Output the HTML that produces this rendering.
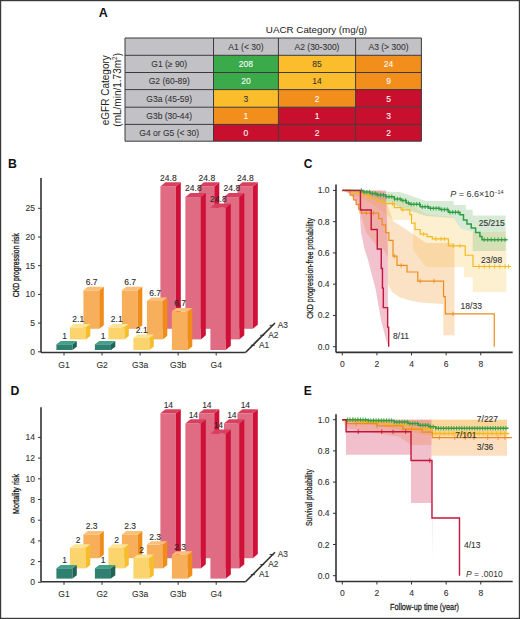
<!DOCTYPE html>
<html><head><meta charset="utf-8"><style>
html,body{margin:0;padding:0;background:#fff;width:520px;height:619px;overflow:hidden;font-family:"Liberation Sans", sans-serif;}
</style></head><body>
<svg width="520" height="619" viewBox="0 0 520 619" style="display:block" font-family='"Liberation Sans", sans-serif'>
<rect x="0" y="0" width="520" height="619" fill="#fff"/>
<text x="98.80" y="17.30" font-size="12.5" text-anchor="start" fill="#111" font-weight="bold" >A</text>
<text x="316.50" y="33.00" font-size="9.8" text-anchor="middle" fill="#222" font-weight="normal" >UACR Category (mg/g)</text>
<rect x="125" y="38" width="88.5" height="17.299999999999997" fill="#c2c1c6"/>
<rect x="213.5" y="38" width="64.89999999999998" height="17.299999999999997" fill="#c2c1c6"/>
<text x="245.95" y="49.75" font-size="8.5" text-anchor="middle" fill="#333" font-weight="normal" stroke="#333" stroke-width="0.08" >A1 (&lt; 30)</text>
<rect x="278.4" y="38" width="77.20000000000005" height="17.299999999999997" fill="#c2c1c6"/>
<text x="317.00" y="49.75" font-size="8.5" text-anchor="middle" fill="#333" font-weight="normal" stroke="#333" stroke-width="0.08" >A2 (30-300)</text>
<rect x="355.6" y="38" width="65.79999999999995" height="17.299999999999997" fill="#c2c1c6"/>
<text x="388.50" y="49.75" font-size="8.5" text-anchor="middle" fill="#333" font-weight="normal" stroke="#333" stroke-width="0.08" >A3 (&gt; 300)</text>
<rect x="125" y="55.3" width="88.5" height="17.200000000000003" fill="#c2c1c6"/>
<text x="169.25" y="67.00" font-size="8.5" text-anchor="middle" fill="#333" font-weight="normal" stroke="#333" stroke-width="0.08" >G1 (&#8805; 90)</text>
<rect x="213.5" y="55.3" width="64.89999999999998" height="17.200000000000003" fill="#3aaa4a"/>
<text x="245.95" y="67.00" font-size="8.5" text-anchor="middle" fill="#fff" font-weight="normal" stroke="#fff" stroke-width="0.08" >208</text>
<rect x="278.4" y="55.3" width="77.20000000000005" height="17.200000000000003" fill="#fbbd2c"/>
<text x="317.00" y="67.00" font-size="8.5" text-anchor="middle" fill="#333" font-weight="normal" stroke="#333" stroke-width="0.08" >85</text>
<rect x="355.6" y="55.3" width="65.79999999999995" height="17.200000000000003" fill="#f28e1c"/>
<text x="388.50" y="67.00" font-size="8.5" text-anchor="middle" fill="#fff" font-weight="normal" stroke="#fff" stroke-width="0.08" >24</text>
<rect x="125" y="72.5" width="88.5" height="17.099999999999994" fill="#c2c1c6"/>
<text x="169.25" y="84.15" font-size="8.5" text-anchor="middle" fill="#333" font-weight="normal" stroke="#333" stroke-width="0.08" >G2 (60-89)</text>
<rect x="213.5" y="72.5" width="64.89999999999998" height="17.099999999999994" fill="#3aaa4a"/>
<text x="245.95" y="84.15" font-size="8.5" text-anchor="middle" fill="#fff" font-weight="normal" stroke="#fff" stroke-width="0.08" >20</text>
<rect x="278.4" y="72.5" width="77.20000000000005" height="17.099999999999994" fill="#fbbd2c"/>
<text x="317.00" y="84.15" font-size="8.5" text-anchor="middle" fill="#333" font-weight="normal" stroke="#333" stroke-width="0.08" >14</text>
<rect x="355.6" y="72.5" width="65.79999999999995" height="17.099999999999994" fill="#f28e1c"/>
<text x="388.50" y="84.15" font-size="8.5" text-anchor="middle" fill="#fff" font-weight="normal" stroke="#fff" stroke-width="0.08" >9</text>
<rect x="125" y="89.6" width="88.5" height="17.60000000000001" fill="#c2c1c6"/>
<text x="169.25" y="101.50" font-size="8.5" text-anchor="middle" fill="#333" font-weight="normal" stroke="#333" stroke-width="0.08" >G3a (45-59)</text>
<rect x="213.5" y="89.6" width="64.89999999999998" height="17.60000000000001" fill="#fbbd2c"/>
<text x="245.95" y="101.50" font-size="8.5" text-anchor="middle" fill="#333" font-weight="normal" stroke="#333" stroke-width="0.08" >3</text>
<rect x="278.4" y="89.6" width="77.20000000000005" height="17.60000000000001" fill="#f28e1c"/>
<text x="317.00" y="101.50" font-size="8.5" text-anchor="middle" fill="#fff" font-weight="normal" stroke="#fff" stroke-width="0.08" >2</text>
<rect x="355.6" y="89.6" width="65.79999999999995" height="17.60000000000001" fill="#c8102e"/>
<text x="388.50" y="101.50" font-size="8.5" text-anchor="middle" fill="#fff" font-weight="normal" stroke="#fff" stroke-width="0.08" >5</text>
<rect x="125" y="107.2" width="88.5" height="17.200000000000003" fill="#c2c1c6"/>
<text x="169.25" y="118.90" font-size="8.5" text-anchor="middle" fill="#333" font-weight="normal" stroke="#333" stroke-width="0.08" >G3b (30-44)</text>
<rect x="213.5" y="107.2" width="64.89999999999998" height="17.200000000000003" fill="#f28e1c"/>
<text x="245.95" y="118.90" font-size="8.5" text-anchor="middle" fill="#fff" font-weight="normal" stroke="#fff" stroke-width="0.08" >1</text>
<rect x="278.4" y="107.2" width="77.20000000000005" height="17.200000000000003" fill="#c8102e"/>
<text x="317.00" y="118.90" font-size="8.5" text-anchor="middle" fill="#fff" font-weight="normal" stroke="#fff" stroke-width="0.08" >1</text>
<rect x="355.6" y="107.2" width="65.79999999999995" height="17.200000000000003" fill="#c8102e"/>
<text x="388.50" y="118.90" font-size="8.5" text-anchor="middle" fill="#fff" font-weight="normal" stroke="#fff" stroke-width="0.08" >3</text>
<rect x="125" y="124.4" width="88.5" height="16.799999999999983" fill="#c2c1c6"/>
<text x="169.25" y="135.90" font-size="8.5" text-anchor="middle" fill="#333" font-weight="normal" stroke="#333" stroke-width="0.08" >G4 or G5 (&lt; 30)</text>
<rect x="213.5" y="124.4" width="64.89999999999998" height="16.799999999999983" fill="#c8102e"/>
<text x="245.95" y="135.90" font-size="8.5" text-anchor="middle" fill="#fff" font-weight="normal" stroke="#fff" stroke-width="0.08" >0</text>
<rect x="278.4" y="124.4" width="77.20000000000005" height="16.799999999999983" fill="#c8102e"/>
<text x="317.00" y="135.90" font-size="8.5" text-anchor="middle" fill="#fff" font-weight="normal" stroke="#fff" stroke-width="0.08" >2</text>
<rect x="355.6" y="124.4" width="65.79999999999995" height="16.799999999999983" fill="#c8102e"/>
<text x="388.50" y="135.90" font-size="8.5" text-anchor="middle" fill="#fff" font-weight="normal" stroke="#fff" stroke-width="0.08" >2</text>
<line x1="125" y1="38" x2="421.4" y2="38" stroke="#3a3a3a" stroke-width="1"/>
<line x1="125" y1="55.3" x2="421.4" y2="55.3" stroke="#3a3a3a" stroke-width="1"/>
<line x1="125" y1="72.5" x2="421.4" y2="72.5" stroke="#3a3a3a" stroke-width="1"/>
<line x1="125" y1="89.6" x2="421.4" y2="89.6" stroke="#3a3a3a" stroke-width="1"/>
<line x1="125" y1="107.2" x2="421.4" y2="107.2" stroke="#3a3a3a" stroke-width="1"/>
<line x1="125" y1="124.4" x2="421.4" y2="124.4" stroke="#3a3a3a" stroke-width="1"/>
<line x1="125" y1="141.2" x2="421.4" y2="141.2" stroke="#3a3a3a" stroke-width="1"/>
<line x1="125" y1="38" x2="125" y2="141.2" stroke="#3a3a3a" stroke-width="1"/>
<line x1="213.5" y1="38" x2="213.5" y2="141.2" stroke="#3a3a3a" stroke-width="1"/>
<line x1="278.4" y1="38" x2="278.4" y2="141.2" stroke="#3a3a3a" stroke-width="1"/>
<line x1="355.6" y1="38" x2="355.6" y2="141.2" stroke="#3a3a3a" stroke-width="1"/>
<line x1="421.4" y1="38" x2="421.4" y2="141.2" stroke="#3a3a3a" stroke-width="1"/>
<text transform="translate(109.20,90.20) rotate(-90) scale(1.0,1)" x="0" y="0" font-size="10" text-anchor="middle" fill="#222" stroke="#222" stroke-width="0">eGFR Category</text>
<text transform="translate(120.7,89.8) rotate(-90)" font-size="10" text-anchor="middle" fill="#222">(mL/min/1.73m<tspan font-size="6.5" dy="-3.5">2</tspan><tspan dy="3.5">)</tspan></text>
<text x="8.00" y="167.50" font-size="12.3" text-anchor="start" fill="#111" font-weight="bold" >B</text>
<line x1="41" y1="178" x2="41" y2="352.5" stroke="#333" stroke-width="1.6"/>
<line x1="38" y1="351.80" x2="41" y2="351.80" stroke="#333" stroke-width="1"/>
<text x="35.00" y="354.80" font-size="8.5" text-anchor="end" fill="#333" font-weight="normal" stroke="#333" stroke-width="0.1" >0</text>
<line x1="38" y1="323.10" x2="41" y2="323.10" stroke="#333" stroke-width="1"/>
<text x="35.00" y="326.10" font-size="8.5" text-anchor="end" fill="#333" font-weight="normal" stroke="#333" stroke-width="0.1" >5</text>
<line x1="38" y1="294.40" x2="41" y2="294.40" stroke="#333" stroke-width="1"/>
<text x="35.00" y="297.40" font-size="8.5" text-anchor="end" fill="#333" font-weight="normal" stroke="#333" stroke-width="0.1" >10</text>
<line x1="38" y1="265.70" x2="41" y2="265.70" stroke="#333" stroke-width="1"/>
<text x="35.00" y="268.70" font-size="8.5" text-anchor="end" fill="#333" font-weight="normal" stroke="#333" stroke-width="0.1" >15</text>
<line x1="38" y1="237.00" x2="41" y2="237.00" stroke="#333" stroke-width="1"/>
<text x="35.00" y="240.00" font-size="8.5" text-anchor="end" fill="#333" font-weight="normal" stroke="#333" stroke-width="0.1" >20</text>
<line x1="38" y1="208.30" x2="41" y2="208.30" stroke="#333" stroke-width="1"/>
<text x="35.00" y="211.30" font-size="8.5" text-anchor="end" fill="#333" font-weight="normal" stroke="#333" stroke-width="0.1" >25</text>
<text transform="translate(19.20,265.20) rotate(-90) scale(0.78,1)" x="0" y="0" font-size="8.7" text-anchor="middle" fill="#1a1a1a" stroke="#1a1a1a" stroke-width="0.3">CKD progression risk</text>
<line x1="41" y1="352.5" x2="245.5" y2="352.5" stroke="#333" stroke-width="1.6"/>
<line x1="245.5" y1="352.5" x2="275" y2="323.0" stroke="#333" stroke-width="1.6"/>
<line x1="64.00" y1="352.5" x2="64.00" y2="355.5" stroke="#333" stroke-width="1"/>
<text x="64.00" y="367.70" font-size="8.5" text-anchor="middle" fill="#333" font-weight="normal" stroke="#333" stroke-width="0.1" >G1</text>
<line x1="102.05" y1="352.5" x2="102.05" y2="355.5" stroke="#333" stroke-width="1"/>
<text x="102.05" y="367.70" font-size="8.5" text-anchor="middle" fill="#333" font-weight="normal" stroke="#333" stroke-width="0.1" >G2</text>
<line x1="140.10" y1="352.5" x2="140.10" y2="355.5" stroke="#333" stroke-width="1"/>
<text x="140.10" y="367.70" font-size="8.5" text-anchor="middle" fill="#333" font-weight="normal" stroke="#333" stroke-width="0.1" >G3a</text>
<line x1="178.15" y1="352.5" x2="178.15" y2="355.5" stroke="#333" stroke-width="1"/>
<text x="178.15" y="367.70" font-size="8.5" text-anchor="middle" fill="#333" font-weight="normal" stroke="#333" stroke-width="0.1" >G3b</text>
<line x1="216.20" y1="352.5" x2="216.20" y2="355.5" stroke="#333" stroke-width="1"/>
<text x="216.20" y="367.70" font-size="8.5" text-anchor="middle" fill="#333" font-weight="normal" stroke="#333" stroke-width="0.1" >G4</text>
<line x1="250.80" y1="345.30" x2="254.80" y2="345.30" stroke="#333" stroke-width="1"/>
<text x="258.90" y="347.90" font-size="8.3" text-anchor="start" fill="#333" font-weight="normal" stroke="#333" stroke-width="0.1" >A1</text>
<line x1="260.20" y1="335.30" x2="264.20" y2="335.30" stroke="#333" stroke-width="1"/>
<text x="268.30" y="337.90" font-size="8.3" text-anchor="start" fill="#333" font-weight="normal" stroke="#333" stroke-width="0.1" >A2</text>
<line x1="269.60" y1="325.30" x2="273.60" y2="325.30" stroke="#333" stroke-width="1"/>
<text x="277.70" y="327.90" font-size="8.3" text-anchor="start" fill="#333" font-weight="normal" stroke="#333" stroke-width="0.1" >A3</text>
<rect x="83.40" y="290.34" width="15.907709999999998" height="38.46" fill="#f8af5c"/>
<polygon points="99.31,290.34 103.80,286.81 103.80,325.27 99.31,328.80" fill="#f08c18"/>
<polygon points="83.40,290.34 87.89,286.81 103.80,286.81 99.31,290.34" fill="#fbbf78"/>
<rect x="121.90" y="290.34" width="15.907709999999998" height="38.46" fill="#f8af5c"/>
<polygon points="137.81,290.34 142.30,286.81 142.30,325.27 137.81,328.80" fill="#f08c18"/>
<polygon points="121.90,290.34 126.39,286.81 142.30,286.81 137.81,290.34" fill="#fbbf78"/>
<rect x="160.40" y="186.45" width="15.38824" height="142.35" fill="#e06c84"/>
<polygon points="175.79,186.45 180.80,182.29 180.80,324.65 175.79,328.80" fill="#cf1038"/>
<polygon points="160.40,186.45 165.41,182.29 180.80,182.29 175.79,186.45" fill="#d9405f"/>
<rect x="198.90" y="186.45" width="15.38824" height="142.35" fill="#e06c84"/>
<polygon points="214.29,186.45 219.30,182.29 219.30,324.65 214.29,328.80" fill="#cf1038"/>
<polygon points="198.90,186.45 203.91,182.29 219.30,182.29 214.29,186.45" fill="#d9405f"/>
<rect x="237.40" y="186.45" width="15.38824" height="142.35" fill="#e06c84"/>
<polygon points="252.79,186.45 257.80,182.29 257.80,324.65 252.79,328.80" fill="#cf1038"/>
<polygon points="237.40,186.45 242.41,182.29 257.80,182.29 252.79,186.45" fill="#d9405f"/>
<rect x="69.90" y="327.35" width="16.03973" height="12.05" fill="#fcd46e"/>
<polygon points="85.94,327.35 90.30,323.97 90.30,336.03 85.94,339.40" fill="#f6bd2c"/>
<polygon points="69.90,327.35 74.26,323.97 90.30,323.97 85.94,327.35" fill="#fde394"/>
<rect x="108.40" y="327.35" width="16.03973" height="12.05" fill="#fcd46e"/>
<polygon points="124.44,327.35 128.80,323.97 128.80,336.03 124.44,339.40" fill="#f6bd2c"/>
<polygon points="108.40,327.35 112.76,323.97 128.80,323.97 124.44,327.35" fill="#fde394"/>
<rect x="146.90" y="300.94" width="15.907709999999998" height="38.46" fill="#f8af5c"/>
<polygon points="162.81,300.94 167.30,297.41 167.30,335.87 162.81,339.40" fill="#f08c18"/>
<polygon points="146.90,300.94 151.39,297.41 167.30,297.41 162.81,300.94" fill="#fbbf78"/>
<rect x="185.40" y="197.05" width="15.38824" height="142.35" fill="#e06c84"/>
<polygon points="200.79,197.05 205.80,192.89 205.80,335.25 200.79,339.40" fill="#cf1038"/>
<polygon points="185.40,197.05 190.41,192.89 205.80,192.89 200.79,197.05" fill="#d9405f"/>
<rect x="223.90" y="197.05" width="15.38824" height="142.35" fill="#e06c84"/>
<polygon points="239.29,197.05 244.30,192.89 244.30,335.25 239.29,339.40" fill="#cf1038"/>
<polygon points="223.90,197.05 228.91,192.89 244.30,192.89 239.29,197.05" fill="#d9405f"/>
<rect x="56.40" y="344.26" width="16.0713" height="5.74" fill="#2f8070"/>
<polygon points="72.47,344.26 76.80,340.93 76.80,346.67 72.47,350.00" fill="#1e6355"/>
<polygon points="56.40,344.26 60.73,340.93 76.80,340.93 72.47,344.26" fill="#45a08a"/>
<rect x="94.90" y="344.26" width="16.0713" height="5.74" fill="#2f8070"/>
<polygon points="110.97,344.26 115.30,340.93 115.30,346.67 110.97,350.00" fill="#1e6355"/>
<polygon points="94.90,344.26 99.23,340.93 115.30,340.93 110.97,344.26" fill="#45a08a"/>
<rect x="133.40" y="337.95" width="16.03973" height="12.05" fill="#fcd46e"/>
<polygon points="149.44,337.95 153.80,334.57 153.80,346.63 149.44,350.00" fill="#f6bd2c"/>
<polygon points="133.40,337.95 137.76,334.57 153.80,334.57 149.44,337.95" fill="#fde394"/>
<rect x="171.90" y="311.54" width="15.907709999999998" height="38.46" fill="#f8af5c"/>
<polygon points="187.81,311.54 192.30,308.01 192.30,346.47 187.81,350.00" fill="#f08c18"/>
<polygon points="171.90,311.54 176.39,308.01 192.30,308.01 187.81,311.54" fill="#fbbf78"/>
<rect x="210.40" y="207.65" width="15.38824" height="142.35" fill="#e06c84"/>
<polygon points="225.79,207.65 230.80,203.49 230.80,345.85 225.79,350.00" fill="#cf1038"/>
<polygon points="210.40,207.65 215.41,203.49 230.80,203.49 225.79,207.65" fill="#d9405f"/>
<text x="91.65" y="285.21" font-size="8.5" text-anchor="middle" fill="#2a2a2a" font-weight="normal" stroke="#2a2a2a" stroke-width="0.1" >6.7</text>
<text x="130.15" y="285.21" font-size="8.5" text-anchor="middle" fill="#2a2a2a" font-weight="normal" stroke="#2a2a2a" stroke-width="0.1" >6.7</text>
<text x="168.39" y="180.69" font-size="8.5" text-anchor="middle" fill="#2a2a2a" font-weight="normal" stroke="#2a2a2a" stroke-width="0.1" >24.8</text>
<text x="206.89" y="180.69" font-size="8.5" text-anchor="middle" fill="#2a2a2a" font-weight="normal" stroke="#2a2a2a" stroke-width="0.1" >24.8</text>
<text x="245.39" y="180.69" font-size="8.5" text-anchor="middle" fill="#2a2a2a" font-weight="normal" stroke="#2a2a2a" stroke-width="0.1" >24.8</text>
<text x="78.22" y="322.37" font-size="8.5" text-anchor="middle" fill="#2a2a2a" font-weight="normal" stroke="#2a2a2a" stroke-width="0.1" >2.1</text>
<text x="116.72" y="322.37" font-size="8.5" text-anchor="middle" fill="#2a2a2a" font-weight="normal" stroke="#2a2a2a" stroke-width="0.1" >2.1</text>
<text x="155.15" y="295.81" font-size="8.5" text-anchor="middle" fill="#2a2a2a" font-weight="normal" stroke="#2a2a2a" stroke-width="0.1" >6.7</text>
<text x="193.39" y="191.29" font-size="8.5" text-anchor="middle" fill="#2a2a2a" font-weight="normal" stroke="#2a2a2a" stroke-width="0.1" >24.8</text>
<text x="231.89" y="191.29" font-size="8.5" text-anchor="middle" fill="#2a2a2a" font-weight="normal" stroke="#2a2a2a" stroke-width="0.1" >24.8</text>
<text x="64.74" y="339.33" font-size="8.5" text-anchor="middle" fill="#2a2a2a" font-weight="normal" stroke="#2a2a2a" stroke-width="0.1" >1</text>
<text x="103.24" y="339.33" font-size="8.5" text-anchor="middle" fill="#2a2a2a" font-weight="normal" stroke="#2a2a2a" stroke-width="0.1" >1</text>
<text x="141.72" y="332.97" font-size="8.5" text-anchor="middle" fill="#2a2a2a" font-weight="normal" stroke="#2a2a2a" stroke-width="0.1" >2.1</text>
<text x="180.15" y="306.41" font-size="8.5" text-anchor="middle" fill="#2a2a2a" font-weight="normal" stroke="#2a2a2a" stroke-width="0.1" >6.7</text>
<text x="218.39" y="201.89" font-size="8.5" text-anchor="middle" fill="#2a2a2a" font-weight="normal" stroke="#2a2a2a" stroke-width="0.1" >24.8</text>
<text x="10.60" y="394.80" font-size="12.3" text-anchor="start" fill="#111" font-weight="bold" >D</text>
<line x1="41" y1="407.3" x2="41" y2="581.8" stroke="#333" stroke-width="1.6"/>
<line x1="38" y1="582.30" x2="41" y2="582.30" stroke="#333" stroke-width="1"/>
<text x="35.00" y="585.30" font-size="8.5" text-anchor="end" fill="#333" font-weight="normal" stroke="#333" stroke-width="0.1" >0</text>
<line x1="38" y1="561.60" x2="41" y2="561.60" stroke="#333" stroke-width="1"/>
<text x="35.00" y="564.60" font-size="8.5" text-anchor="end" fill="#333" font-weight="normal" stroke="#333" stroke-width="0.1" >2</text>
<line x1="38" y1="540.90" x2="41" y2="540.90" stroke="#333" stroke-width="1"/>
<text x="35.00" y="543.90" font-size="8.5" text-anchor="end" fill="#333" font-weight="normal" stroke="#333" stroke-width="0.1" >4</text>
<line x1="38" y1="520.20" x2="41" y2="520.20" stroke="#333" stroke-width="1"/>
<text x="35.00" y="523.20" font-size="8.5" text-anchor="end" fill="#333" font-weight="normal" stroke="#333" stroke-width="0.1" >6</text>
<line x1="38" y1="499.50" x2="41" y2="499.50" stroke="#333" stroke-width="1"/>
<text x="35.00" y="502.50" font-size="8.5" text-anchor="end" fill="#333" font-weight="normal" stroke="#333" stroke-width="0.1" >8</text>
<line x1="38" y1="478.80" x2="41" y2="478.80" stroke="#333" stroke-width="1"/>
<text x="35.00" y="481.80" font-size="8.5" text-anchor="end" fill="#333" font-weight="normal" stroke="#333" stroke-width="0.1" >10</text>
<line x1="38" y1="458.10" x2="41" y2="458.10" stroke="#333" stroke-width="1"/>
<text x="35.00" y="461.10" font-size="8.5" text-anchor="end" fill="#333" font-weight="normal" stroke="#333" stroke-width="0.1" >12</text>
<line x1="38" y1="437.40" x2="41" y2="437.40" stroke="#333" stroke-width="1"/>
<text x="35.00" y="440.40" font-size="8.5" text-anchor="end" fill="#333" font-weight="normal" stroke="#333" stroke-width="0.1" >14</text>
<text transform="translate(19.20,494.00) rotate(-90) scale(0.82,1)" x="0" y="0" font-size="8.7" text-anchor="middle" fill="#1a1a1a" stroke="#1a1a1a" stroke-width="0.3">Mortality risk</text>
<line x1="41" y1="581.8" x2="245.5" y2="581.8" stroke="#333" stroke-width="1.6"/>
<line x1="245.5" y1="581.8" x2="275" y2="552.3" stroke="#333" stroke-width="1.6"/>
<line x1="64.00" y1="581.8" x2="64.00" y2="584.8" stroke="#333" stroke-width="1"/>
<text x="64.00" y="597.00" font-size="8.5" text-anchor="middle" fill="#333" font-weight="normal" stroke="#333" stroke-width="0.1" >G1</text>
<line x1="102.05" y1="581.8" x2="102.05" y2="584.8" stroke="#333" stroke-width="1"/>
<text x="102.05" y="597.00" font-size="8.5" text-anchor="middle" fill="#333" font-weight="normal" stroke="#333" stroke-width="0.1" >G2</text>
<line x1="140.10" y1="581.8" x2="140.10" y2="584.8" stroke="#333" stroke-width="1"/>
<text x="140.10" y="597.00" font-size="8.5" text-anchor="middle" fill="#333" font-weight="normal" stroke="#333" stroke-width="0.1" >G3a</text>
<line x1="178.15" y1="581.8" x2="178.15" y2="584.8" stroke="#333" stroke-width="1"/>
<text x="178.15" y="597.00" font-size="8.5" text-anchor="middle" fill="#333" font-weight="normal" stroke="#333" stroke-width="0.1" >G3b</text>
<line x1="216.20" y1="581.8" x2="216.20" y2="584.8" stroke="#333" stroke-width="1"/>
<text x="216.20" y="597.00" font-size="8.5" text-anchor="middle" fill="#333" font-weight="normal" stroke="#333" stroke-width="0.1" >G4</text>
<line x1="250.80" y1="574.60" x2="254.80" y2="574.60" stroke="#333" stroke-width="1"/>
<text x="258.90" y="577.20" font-size="8.3" text-anchor="start" fill="#333" font-weight="normal" stroke="#333" stroke-width="0.1" >A1</text>
<line x1="260.20" y1="564.60" x2="264.20" y2="564.60" stroke="#333" stroke-width="1"/>
<text x="268.30" y="567.20" font-size="8.3" text-anchor="start" fill="#333" font-weight="normal" stroke="#333" stroke-width="0.1" >A2</text>
<line x1="269.60" y1="554.60" x2="273.60" y2="554.60" stroke="#333" stroke-width="1"/>
<text x="277.70" y="557.20" font-size="8.3" text-anchor="start" fill="#333" font-weight="normal" stroke="#333" stroke-width="0.1" >A3</text>
<rect x="83.40" y="534.40" width="15.980974999999999" height="23.80" fill="#f8af5c"/>
<polygon points="99.38,534.40 103.80,530.95 103.80,554.76 99.38,558.20" fill="#f08c18"/>
<polygon points="83.40,534.40 87.82,530.95 103.80,530.95 99.38,534.40" fill="#fbbf78"/>
<rect x="121.90" y="534.40" width="15.980974999999999" height="23.80" fill="#f8af5c"/>
<polygon points="137.88,534.40 142.30,530.95 142.30,554.76 137.88,558.20" fill="#f08c18"/>
<polygon points="121.90,534.40 126.32,530.95 142.30,530.95 137.88,534.40" fill="#fbbf78"/>
<rect x="160.40" y="413.30" width="15.375499999999999" height="144.90" fill="#e06c84"/>
<polygon points="175.78,413.30 180.80,409.13 180.80,554.03 175.78,558.20" fill="#cf1038"/>
<polygon points="160.40,413.30 165.42,409.13 180.80,409.13 175.78,413.30" fill="#d9405f"/>
<rect x="198.90" y="413.30" width="15.375499999999999" height="144.90" fill="#e06c84"/>
<polygon points="214.28,413.30 219.30,409.13 219.30,554.03 214.28,558.20" fill="#cf1038"/>
<polygon points="198.90,413.30 203.92,409.13 219.30,409.13 214.28,413.30" fill="#d9405f"/>
<rect x="237.40" y="413.30" width="15.375499999999999" height="144.90" fill="#e06c84"/>
<polygon points="252.78,413.30 257.80,409.13 257.80,554.03 252.78,558.20" fill="#cf1038"/>
<polygon points="237.40,413.30 242.42,409.13 257.80,409.13 252.78,413.30" fill="#d9405f"/>
<rect x="69.90" y="547.70" width="15.996499999999997" height="20.70" fill="#fcd46e"/>
<polygon points="85.90,547.70 90.30,544.28 90.30,564.98 85.90,568.40" fill="#f6bd2c"/>
<polygon points="69.90,547.70 74.30,544.28 90.30,544.28 85.90,547.70" fill="#fde394"/>
<rect x="108.40" y="547.70" width="15.996499999999997" height="20.70" fill="#fcd46e"/>
<polygon points="124.40,547.70 128.80,544.28 128.80,564.98 124.40,568.40" fill="#f6bd2c"/>
<polygon points="108.40,547.70 112.80,544.28 128.80,544.28 124.40,547.70" fill="#fde394"/>
<rect x="146.90" y="544.60" width="15.980974999999999" height="23.80" fill="#f8af5c"/>
<polygon points="162.88,544.60 167.30,541.15 167.30,564.96 162.88,568.40" fill="#f08c18"/>
<polygon points="146.90,544.60 151.32,541.15 167.30,541.15 162.88,544.60" fill="#fbbf78"/>
<rect x="185.40" y="423.50" width="15.375499999999999" height="144.90" fill="#e06c84"/>
<polygon points="200.78,423.50 205.80,419.33 205.80,564.23 200.78,568.40" fill="#cf1038"/>
<polygon points="185.40,423.50 190.42,419.33 205.80,419.33 200.78,423.50" fill="#d9405f"/>
<rect x="223.90" y="423.50" width="15.375499999999999" height="144.90" fill="#e06c84"/>
<polygon points="239.28,423.50 244.30,419.33 244.30,564.23 239.28,568.40" fill="#cf1038"/>
<polygon points="223.90,423.50 228.92,419.33 244.30,419.33 239.28,423.50" fill="#d9405f"/>
<rect x="56.40" y="568.25" width="16.04825" height="10.35" fill="#2f8070"/>
<polygon points="72.45,568.25 76.80,564.89 76.80,575.24 72.45,578.60" fill="#1e6355"/>
<polygon points="56.40,568.25 60.75,564.89 76.80,564.89 72.45,568.25" fill="#45a08a"/>
<rect x="94.90" y="568.25" width="16.04825" height="10.35" fill="#2f8070"/>
<polygon points="110.95,568.25 115.30,564.89 115.30,575.24 110.95,578.60" fill="#1e6355"/>
<polygon points="94.90,568.25 99.25,564.89 115.30,564.89 110.95,568.25" fill="#45a08a"/>
<rect x="133.40" y="557.90" width="15.996499999999997" height="20.70" fill="#fcd46e"/>
<polygon points="149.40,557.90 153.80,554.48 153.80,575.18 149.40,578.60" fill="#f6bd2c"/>
<polygon points="133.40,557.90 137.80,554.48 153.80,554.48 149.40,557.90" fill="#fde394"/>
<rect x="171.90" y="554.80" width="15.980974999999999" height="23.80" fill="#f8af5c"/>
<polygon points="187.88,554.80 192.30,551.35 192.30,575.16 187.88,578.60" fill="#f08c18"/>
<polygon points="171.90,554.80 176.32,551.35 192.30,551.35 187.88,554.80" fill="#fbbf78"/>
<rect x="210.40" y="433.70" width="15.375499999999999" height="144.90" fill="#e06c84"/>
<polygon points="225.78,433.70 230.80,429.53 230.80,574.43 225.78,578.60" fill="#cf1038"/>
<polygon points="210.40,433.70 215.42,429.53 230.80,429.53 225.78,433.70" fill="#d9405f"/>
<text x="91.69" y="529.35" font-size="8.5" text-anchor="middle" fill="#2a2a2a" font-weight="normal" stroke="#2a2a2a" stroke-width="0.1" >2.3</text>
<text x="130.19" y="529.35" font-size="8.5" text-anchor="middle" fill="#2a2a2a" font-weight="normal" stroke="#2a2a2a" stroke-width="0.1" >2.3</text>
<text x="168.39" y="407.53" font-size="8.5" text-anchor="middle" fill="#2a2a2a" font-weight="normal" stroke="#2a2a2a" stroke-width="0.1" >14</text>
<text x="206.89" y="407.53" font-size="8.5" text-anchor="middle" fill="#2a2a2a" font-weight="normal" stroke="#2a2a2a" stroke-width="0.1" >14</text>
<text x="245.39" y="407.53" font-size="8.5" text-anchor="middle" fill="#2a2a2a" font-weight="normal" stroke="#2a2a2a" stroke-width="0.1" >14</text>
<text x="78.20" y="542.68" font-size="8.5" text-anchor="middle" fill="#2a2a2a" font-weight="normal" stroke="#2a2a2a" stroke-width="0.1" >2</text>
<text x="116.70" y="542.68" font-size="8.5" text-anchor="middle" fill="#2a2a2a" font-weight="normal" stroke="#2a2a2a" stroke-width="0.1" >2</text>
<text x="155.19" y="539.55" font-size="8.5" text-anchor="middle" fill="#2a2a2a" font-weight="normal" stroke="#2a2a2a" stroke-width="0.1" >2.3</text>
<text x="193.39" y="417.73" font-size="8.5" text-anchor="middle" fill="#2a2a2a" font-weight="normal" stroke="#2a2a2a" stroke-width="0.1" >14</text>
<text x="231.89" y="417.73" font-size="8.5" text-anchor="middle" fill="#2a2a2a" font-weight="normal" stroke="#2a2a2a" stroke-width="0.1" >14</text>
<text x="64.72" y="563.29" font-size="8.5" text-anchor="middle" fill="#2a2a2a" font-weight="normal" stroke="#2a2a2a" stroke-width="0.1" >1</text>
<text x="103.22" y="563.29" font-size="8.5" text-anchor="middle" fill="#2a2a2a" font-weight="normal" stroke="#2a2a2a" stroke-width="0.1" >1</text>
<text x="141.70" y="552.88" font-size="8.5" text-anchor="middle" fill="#2a2a2a" font-weight="normal" stroke="#2a2a2a" stroke-width="0.1" >2</text>
<text x="180.19" y="549.75" font-size="8.5" text-anchor="middle" fill="#2a2a2a" font-weight="normal" stroke="#2a2a2a" stroke-width="0.1" >2.3</text>
<text x="218.39" y="427.93" font-size="8.5" text-anchor="middle" fill="#2a2a2a" font-weight="normal" stroke="#2a2a2a" stroke-width="0.1" >14</text>
<text x="303.80" y="168.00" font-size="12" text-anchor="start" fill="#111" font-weight="bold" >C</text>
<line x1="336" y1="184.6" x2="336" y2="352.4" stroke="#333" stroke-width="1.6"/>
<line x1="336" y1="352.4" x2="512.7" y2="352.4" stroke="#333" stroke-width="1.6"/>
<line x1="333" y1="346.70" x2="336" y2="346.70" stroke="#333" stroke-width="1"/>
<text x="329.60" y="349.70" font-size="8.5" text-anchor="end" fill="#333" font-weight="normal" stroke="#333" stroke-width="0.1" >0.0</text>
<line x1="333" y1="315.44" x2="336" y2="315.44" stroke="#333" stroke-width="1"/>
<text x="329.60" y="318.44" font-size="8.5" text-anchor="end" fill="#333" font-weight="normal" stroke="#333" stroke-width="0.1" >0.2</text>
<line x1="333" y1="284.18" x2="336" y2="284.18" stroke="#333" stroke-width="1"/>
<text x="329.60" y="287.18" font-size="8.5" text-anchor="end" fill="#333" font-weight="normal" stroke="#333" stroke-width="0.1" >0.4</text>
<line x1="333" y1="252.92" x2="336" y2="252.92" stroke="#333" stroke-width="1"/>
<text x="329.60" y="255.92" font-size="8.5" text-anchor="end" fill="#333" font-weight="normal" stroke="#333" stroke-width="0.1" >0.6</text>
<line x1="333" y1="221.66" x2="336" y2="221.66" stroke="#333" stroke-width="1"/>
<text x="329.60" y="224.66" font-size="8.5" text-anchor="end" fill="#333" font-weight="normal" stroke="#333" stroke-width="0.1" >0.8</text>
<line x1="333" y1="190.40" x2="336" y2="190.40" stroke="#333" stroke-width="1"/>
<text x="329.60" y="193.40" font-size="8.5" text-anchor="end" fill="#333" font-weight="normal" stroke="#333" stroke-width="0.1" >1.0</text>
<line x1="342.30" y1="352.4" x2="342.30" y2="355.4" stroke="#333" stroke-width="1"/>
<text x="342.30" y="367.20" font-size="8.5" text-anchor="middle" fill="#333" font-weight="normal" stroke="#333" stroke-width="0.1" >0</text>
<line x1="376.92" y1="352.4" x2="376.92" y2="355.4" stroke="#333" stroke-width="1"/>
<text x="376.92" y="367.20" font-size="8.5" text-anchor="middle" fill="#333" font-weight="normal" stroke="#333" stroke-width="0.1" >2</text>
<line x1="411.54" y1="352.4" x2="411.54" y2="355.4" stroke="#333" stroke-width="1"/>
<text x="411.54" y="367.20" font-size="8.5" text-anchor="middle" fill="#333" font-weight="normal" stroke="#333" stroke-width="0.1" >4</text>
<line x1="446.16" y1="352.4" x2="446.16" y2="355.4" stroke="#333" stroke-width="1"/>
<text x="446.16" y="367.20" font-size="8.5" text-anchor="middle" fill="#333" font-weight="normal" stroke="#333" stroke-width="0.1" >6</text>
<line x1="480.78" y1="352.4" x2="480.78" y2="355.4" stroke="#333" stroke-width="1"/>
<text x="480.78" y="367.20" font-size="8.5" text-anchor="middle" fill="#333" font-weight="normal" stroke="#333" stroke-width="0.1" >8</text>
<text transform="translate(312.50,268.40) rotate(-90) scale(0.733,1)" x="0" y="0" font-size="9.5" text-anchor="middle" fill="#1a1a1a" stroke="#1a1a1a" stroke-width="0.25">CKD progression-free probability</text>
<polygon points="342.3,190.4 370.0,191.0 400.0,197.0 426.0,214.0 454.0,217.0 460.6,228.4 472.7,232.0 506.4,232.0 506.4,292.0 472.7,292.0 472.7,277.3 464.0,277.3 464.0,267.0 426.0,267.0 413.0,250.0 413.0,220.0 393.0,220.0 386.0,214.0 372.0,204.0 355.0,195.0" fill="#f9cf70" fill-opacity="0.32"/>
<polygon points="342.3,190.4 382.0,190.4 386.0,200.0 393.0,221.0 413.0,234.0 426.0,243.0 454.5,243.0 454.5,335.3 443.3,335.3 443.3,304.1 426.0,303.0 420.0,302.5 410.0,300.6 400.0,297.5 392.0,292.0 388.0,284.2 388.0,258.0 384.0,250.0 376.0,245.0 366.0,232.0 361.0,215.0 358.0,200.0 348.0,192.0" fill="#f6a650" fill-opacity="0.33"/>
<polygon points="342.3,190.4 400.0,192.0 426.0,201.0 453.7,201.0 453.7,205.0 465.8,205.0 465.8,209.8 472.7,209.8 472.7,215.5 505.6,215.5 505.6,251.0 472.7,251.0 472.7,232.0 460.6,228.4 454.0,218.0 426.0,216.0 400.0,207.0 370.0,196.0 350.0,191.5" fill="#8fc48a" fill-opacity="0.36"/>
<polygon points="343.0,190.4 386.0,190.4 387.9,250.0 387.9,343.0 388.5,347.0 386.2,340.0 381.0,320.0 375.8,290.0 368.0,260.0 364.5,249.0 361.0,232.0 359.8,214.6 357.0,204.0 350.0,194.0" fill="#de5f7f" fill-opacity="0.38"/>
<path d="M342.30,190.40 H350.09 V195.09 H353.55 V199.78 H356.15 V204.47 H358.74 V209.16 H361.34 V213.06 H378.65 V218.53 H382.11 V224.79 H385.57 V232.60 H388.86 V240.42 H393.02 V256.05 H397.00 V265.42 H407.04 V271.99 H417.77 V281.05 H443.56 V296.68 H445.29 V313.88 H494.28 V346.70 H494.28" fill="none" stroke="#ec8c1e" stroke-width="1.2"/>
<line x1="366.53" y1="210.86" x2="366.53" y2="215.26" stroke="#ec8c1e" stroke-width="0.9"/>
<line x1="373.46" y1="210.86" x2="373.46" y2="215.26" stroke="#ec8c1e" stroke-width="0.9"/>
<line x1="394.23" y1="253.85" x2="394.23" y2="258.25" stroke="#ec8c1e" stroke-width="0.9"/>
<line x1="401.15" y1="263.22" x2="401.15" y2="267.62" stroke="#ec8c1e" stroke-width="0.9"/>
<line x1="420.19" y1="278.85" x2="420.19" y2="283.25" stroke="#ec8c1e" stroke-width="0.9"/>
<line x1="434.04" y1="278.85" x2="434.04" y2="283.25" stroke="#ec8c1e" stroke-width="0.9"/>
<line x1="453.08" y1="311.68" x2="453.08" y2="316.08" stroke="#ec8c1e" stroke-width="0.9"/>
<path d="M342.30,190.40 H352.69 V192.74 H363.07 V195.87 H370.00 V198.22 H376.92 V201.34 H383.84 V203.69 H394.23 V207.59 H401.15 V209.94 H409.81 V214.63 H411.54 V223.22 H415.00 V229.48 H420.19 V234.16 H427.12 V236.66 H432.31 V238.85 H448.41 V245.89 H465.20 V255.26 H472.99 V266.52 H511.07" fill="none" stroke="#f5b81c" stroke-width="1.2"/>
<line x1="357.88" y1="190.54" x2="357.88" y2="194.94" stroke="#f5b81c" stroke-width="0.9"/>
<line x1="368.26" y1="193.67" x2="368.26" y2="198.07" stroke="#f5b81c" stroke-width="0.9"/>
<line x1="382.11" y1="199.14" x2="382.11" y2="203.54" stroke="#f5b81c" stroke-width="0.9"/>
<line x1="392.50" y1="201.49" x2="392.50" y2="205.89" stroke="#f5b81c" stroke-width="0.9"/>
<line x1="402.88" y1="207.74" x2="402.88" y2="212.14" stroke="#f5b81c" stroke-width="0.9"/>
<line x1="423.66" y1="231.96" x2="423.66" y2="236.36" stroke="#f5b81c" stroke-width="0.9"/>
<line x1="435.77" y1="236.65" x2="435.77" y2="241.05" stroke="#f5b81c" stroke-width="0.9"/>
<line x1="440.97" y1="236.65" x2="440.97" y2="241.05" stroke="#f5b81c" stroke-width="0.9"/>
<line x1="444.43" y1="236.65" x2="444.43" y2="241.05" stroke="#f5b81c" stroke-width="0.9"/>
<line x1="453.08" y1="243.69" x2="453.08" y2="248.09" stroke="#f5b81c" stroke-width="0.9"/>
<line x1="460.01" y1="243.69" x2="460.01" y2="248.09" stroke="#f5b81c" stroke-width="0.9"/>
<line x1="479.05" y1="264.32" x2="479.05" y2="268.72" stroke="#f5b81c" stroke-width="0.9"/>
<line x1="484.24" y1="264.32" x2="484.24" y2="268.72" stroke="#f5b81c" stroke-width="0.9"/>
<line x1="489.44" y1="264.32" x2="489.44" y2="268.72" stroke="#f5b81c" stroke-width="0.9"/>
<line x1="494.63" y1="264.32" x2="494.63" y2="268.72" stroke="#f5b81c" stroke-width="0.9"/>
<line x1="499.82" y1="264.32" x2="499.82" y2="268.72" stroke="#f5b81c" stroke-width="0.9"/>
<line x1="505.01" y1="264.32" x2="505.01" y2="268.72" stroke="#f5b81c" stroke-width="0.9"/>
<line x1="508.48" y1="264.32" x2="508.48" y2="268.72" stroke="#f5b81c" stroke-width="0.9"/>
<path d="M342.30,190.40 H363.07 V191.96 H370.00 V193.53 H376.92 V195.09 H385.57 V196.65 H394.23 V199.00 H401.15 V200.56 H406.35 V202.90 H409.81 V204.15 H420.19 V206.81 H428.85 V208.37 H439.93 V209.62 H448.41 V212.28 H460.01 V214.63 H463.47 V220.10 H466.93 V224.00 H471.26 V227.91 H475.59 V232.60 H479.91 V236.51 H481.99 V239.63 H507.61" fill="none" stroke="#2f9e44" stroke-width="1.5"/>
<line x1="361.34" y1="188.20" x2="361.34" y2="192.60" stroke="#2f9e44" stroke-width="0.9"/>
<line x1="364.11" y1="189.76" x2="364.11" y2="194.16" stroke="#2f9e44" stroke-width="0.9"/>
<line x1="366.88" y1="189.76" x2="366.88" y2="194.16" stroke="#2f9e44" stroke-width="0.9"/>
<line x1="369.65" y1="189.76" x2="369.65" y2="194.16" stroke="#2f9e44" stroke-width="0.9"/>
<line x1="372.42" y1="191.33" x2="372.42" y2="195.73" stroke="#2f9e44" stroke-width="0.9"/>
<line x1="375.19" y1="191.33" x2="375.19" y2="195.73" stroke="#2f9e44" stroke-width="0.9"/>
<line x1="377.96" y1="192.89" x2="377.96" y2="197.29" stroke="#2f9e44" stroke-width="0.9"/>
<line x1="380.73" y1="192.89" x2="380.73" y2="197.29" stroke="#2f9e44" stroke-width="0.9"/>
<line x1="383.50" y1="192.89" x2="383.50" y2="197.29" stroke="#2f9e44" stroke-width="0.9"/>
<line x1="386.27" y1="194.45" x2="386.27" y2="198.85" stroke="#2f9e44" stroke-width="0.9"/>
<line x1="389.04" y1="194.45" x2="389.04" y2="198.85" stroke="#2f9e44" stroke-width="0.9"/>
<line x1="391.81" y1="194.45" x2="391.81" y2="198.85" stroke="#2f9e44" stroke-width="0.9"/>
<line x1="394.58" y1="196.80" x2="394.58" y2="201.20" stroke="#2f9e44" stroke-width="0.9"/>
<line x1="397.35" y1="196.80" x2="397.35" y2="201.20" stroke="#2f9e44" stroke-width="0.9"/>
<line x1="400.12" y1="196.80" x2="400.12" y2="201.20" stroke="#2f9e44" stroke-width="0.9"/>
<line x1="402.88" y1="198.36" x2="402.88" y2="202.76" stroke="#2f9e44" stroke-width="0.9"/>
<line x1="405.65" y1="198.36" x2="405.65" y2="202.76" stroke="#2f9e44" stroke-width="0.9"/>
<line x1="408.42" y1="200.70" x2="408.42" y2="205.10" stroke="#2f9e44" stroke-width="0.9"/>
<line x1="411.19" y1="201.95" x2="411.19" y2="206.35" stroke="#2f9e44" stroke-width="0.9"/>
<line x1="413.96" y1="201.95" x2="413.96" y2="206.35" stroke="#2f9e44" stroke-width="0.9"/>
<line x1="416.73" y1="201.95" x2="416.73" y2="206.35" stroke="#2f9e44" stroke-width="0.9"/>
<line x1="419.50" y1="201.95" x2="419.50" y2="206.35" stroke="#2f9e44" stroke-width="0.9"/>
<line x1="422.27" y1="204.61" x2="422.27" y2="209.01" stroke="#2f9e44" stroke-width="0.9"/>
<line x1="425.04" y1="204.61" x2="425.04" y2="209.01" stroke="#2f9e44" stroke-width="0.9"/>
<line x1="427.81" y1="204.61" x2="427.81" y2="209.01" stroke="#2f9e44" stroke-width="0.9"/>
<line x1="430.58" y1="206.17" x2="430.58" y2="210.57" stroke="#2f9e44" stroke-width="0.9"/>
<line x1="433.35" y1="206.17" x2="433.35" y2="210.57" stroke="#2f9e44" stroke-width="0.9"/>
<line x1="436.12" y1="206.17" x2="436.12" y2="210.57" stroke="#2f9e44" stroke-width="0.9"/>
<line x1="438.89" y1="206.17" x2="438.89" y2="210.57" stroke="#2f9e44" stroke-width="0.9"/>
<line x1="441.66" y1="207.42" x2="441.66" y2="211.82" stroke="#2f9e44" stroke-width="0.9"/>
<line x1="444.43" y1="207.42" x2="444.43" y2="211.82" stroke="#2f9e44" stroke-width="0.9"/>
<line x1="447.20" y1="207.42" x2="447.20" y2="211.82" stroke="#2f9e44" stroke-width="0.9"/>
<line x1="449.97" y1="210.08" x2="449.97" y2="214.48" stroke="#2f9e44" stroke-width="0.9"/>
<line x1="452.74" y1="210.08" x2="452.74" y2="214.48" stroke="#2f9e44" stroke-width="0.9"/>
<line x1="455.51" y1="210.08" x2="455.51" y2="214.48" stroke="#2f9e44" stroke-width="0.9"/>
<line x1="458.28" y1="210.08" x2="458.28" y2="214.48" stroke="#2f9e44" stroke-width="0.9"/>
<line x1="484.24" y1="237.43" x2="484.24" y2="241.83" stroke="#2f9e44" stroke-width="0.9"/>
<line x1="487.70" y1="237.43" x2="487.70" y2="241.83" stroke="#2f9e44" stroke-width="0.9"/>
<line x1="491.17" y1="237.43" x2="491.17" y2="241.83" stroke="#2f9e44" stroke-width="0.9"/>
<line x1="494.63" y1="237.43" x2="494.63" y2="241.83" stroke="#2f9e44" stroke-width="0.9"/>
<line x1="498.09" y1="237.43" x2="498.09" y2="241.83" stroke="#2f9e44" stroke-width="0.9"/>
<line x1="501.55" y1="237.43" x2="501.55" y2="241.83" stroke="#2f9e44" stroke-width="0.9"/>
<line x1="505.01" y1="237.43" x2="505.01" y2="241.83" stroke="#2f9e44" stroke-width="0.9"/>
<path d="M342.30,190.40 H360.48 V209.94 H371.21 V229.48 H377.27 V249.01 H381.25 V268.55 H382.46 V288.09 H383.32 V307.62 H387.65 V327.16 H388.69 V346.70 H388.69" fill="none" stroke="#c4163c" stroke-width="1.4"/>
<text x="478.80" y="225.80" font-size="8.5" text-anchor="start" fill="#333" font-weight="normal" stroke="#333" stroke-width="0.1" >25/215</text>
<text x="481.00" y="263.00" font-size="8.5" text-anchor="start" fill="#333" font-weight="normal" stroke="#333" stroke-width="0.1" >23/98</text>
<text x="460.60" y="309.30" font-size="8.5" text-anchor="start" fill="#333" font-weight="normal" stroke="#333" stroke-width="0.1" >18/33</text>
<text x="393.10" y="338.70" font-size="8.5" text-anchor="start" fill="#333" font-weight="normal" stroke="#333" stroke-width="0.1" >8/11</text>
<text x="450.2" y="196.8" font-size="9" fill="#333"><tspan font-style="italic">P</tspan> = 6.6×10<tspan font-size="5.5" dy="-3.2">−14</tspan></text>
<text x="303.80" y="395.00" font-size="12" text-anchor="start" fill="#111" font-weight="bold" >E</text>
<line x1="336" y1="414.2" x2="336" y2="581.5" stroke="#333" stroke-width="1.6"/>
<line x1="336" y1="581.5" x2="512.7" y2="581.5" stroke="#333" stroke-width="1.6"/>
<line x1="333" y1="575.70" x2="336" y2="575.70" stroke="#333" stroke-width="1"/>
<text x="329.60" y="578.70" font-size="8.5" text-anchor="end" fill="#333" font-weight="normal" stroke="#333" stroke-width="0.1" >0.0</text>
<line x1="333" y1="544.50" x2="336" y2="544.50" stroke="#333" stroke-width="1"/>
<text x="329.60" y="547.50" font-size="8.5" text-anchor="end" fill="#333" font-weight="normal" stroke="#333" stroke-width="0.1" >0.2</text>
<line x1="333" y1="513.30" x2="336" y2="513.30" stroke="#333" stroke-width="1"/>
<text x="329.60" y="516.30" font-size="8.5" text-anchor="end" fill="#333" font-weight="normal" stroke="#333" stroke-width="0.1" >0.4</text>
<line x1="333" y1="482.10" x2="336" y2="482.10" stroke="#333" stroke-width="1"/>
<text x="329.60" y="485.10" font-size="8.5" text-anchor="end" fill="#333" font-weight="normal" stroke="#333" stroke-width="0.1" >0.6</text>
<line x1="333" y1="450.90" x2="336" y2="450.90" stroke="#333" stroke-width="1"/>
<text x="329.60" y="453.90" font-size="8.5" text-anchor="end" fill="#333" font-weight="normal" stroke="#333" stroke-width="0.1" >0.8</text>
<line x1="333" y1="419.70" x2="336" y2="419.70" stroke="#333" stroke-width="1"/>
<text x="329.60" y="422.70" font-size="8.5" text-anchor="end" fill="#333" font-weight="normal" stroke="#333" stroke-width="0.1" >1.0</text>
<line x1="342.30" y1="581.5" x2="342.30" y2="584.5" stroke="#333" stroke-width="1"/>
<text x="342.30" y="596.30" font-size="8.5" text-anchor="middle" fill="#333" font-weight="normal" stroke="#333" stroke-width="0.1" >0</text>
<line x1="376.92" y1="581.5" x2="376.92" y2="584.5" stroke="#333" stroke-width="1"/>
<text x="376.92" y="596.30" font-size="8.5" text-anchor="middle" fill="#333" font-weight="normal" stroke="#333" stroke-width="0.1" >2</text>
<line x1="411.54" y1="581.5" x2="411.54" y2="584.5" stroke="#333" stroke-width="1"/>
<text x="411.54" y="596.30" font-size="8.5" text-anchor="middle" fill="#333" font-weight="normal" stroke="#333" stroke-width="0.1" >4</text>
<line x1="446.16" y1="581.5" x2="446.16" y2="584.5" stroke="#333" stroke-width="1"/>
<text x="446.16" y="596.30" font-size="8.5" text-anchor="middle" fill="#333" font-weight="normal" stroke="#333" stroke-width="0.1" >6</text>
<line x1="480.78" y1="581.5" x2="480.78" y2="584.5" stroke="#333" stroke-width="1"/>
<text x="480.78" y="596.30" font-size="8.5" text-anchor="middle" fill="#333" font-weight="normal" stroke="#333" stroke-width="0.1" >8</text>
<text transform="translate(312.20,497.60) rotate(-90) scale(0.715,1)" x="0" y="0" font-size="9.5" text-anchor="middle" fill="#1a1a1a" stroke="#1a1a1a" stroke-width="0.25">Survival probability</text>
<text transform="translate(424.5,610.3) scale(0.8,1)" font-size="9.2" text-anchor="middle" fill="#1a1a1a" stroke="#1a1a1a" stroke-width="0.25">Follow-up time (year)</text>
<polygon points="343.0,419.7 507.0,419.7 507.0,455.8 431.5,455.8 431.5,445.0 411.0,445.0 400.0,437.0 370.0,432.0 346.0,428.0 343.0,421.0" fill="#f6a650" fill-opacity="0.36"/>
<polygon points="343.0,419.7 507.0,419.7 507.0,435.8 431.5,435.8 411.0,432.0 386.0,427.0 360.0,423.0 343.0,420.5" fill="#f9c050" fill-opacity="0.34"/>
<polygon points="346.0,419.7 431.5,419.7 431.5,503.0 411.0,503.0 411.0,454.8 346.0,454.8" fill="#de5f7f" fill-opacity="0.4"/>
<polygon points="431.5,503.0 433.5,503.0 432.3,560.0" fill="#dc6d8f" fill-opacity="0.12"/>
<path d="M342.30,419.70 H359.61 V422.04 H385.57 V425.16 H411.54 V429.06 H432.31 V433.43 H509.34" fill="none" stroke="#f5b81c" stroke-width="1.4"/>
<line x1="349.22" y1="417.50" x2="349.22" y2="421.90" stroke="#f5b81c" stroke-width="0.9"/>
<line x1="353.55" y1="417.50" x2="353.55" y2="421.90" stroke="#f5b81c" stroke-width="0.9"/>
<line x1="357.88" y1="417.50" x2="357.88" y2="421.90" stroke="#f5b81c" stroke-width="0.9"/>
<line x1="362.21" y1="419.84" x2="362.21" y2="424.24" stroke="#f5b81c" stroke-width="0.9"/>
<line x1="366.53" y1="419.84" x2="366.53" y2="424.24" stroke="#f5b81c" stroke-width="0.9"/>
<line x1="370.86" y1="419.84" x2="370.86" y2="424.24" stroke="#f5b81c" stroke-width="0.9"/>
<line x1="375.19" y1="419.84" x2="375.19" y2="424.24" stroke="#f5b81c" stroke-width="0.9"/>
<line x1="379.52" y1="419.84" x2="379.52" y2="424.24" stroke="#f5b81c" stroke-width="0.9"/>
<line x1="383.84" y1="419.84" x2="383.84" y2="424.24" stroke="#f5b81c" stroke-width="0.9"/>
<line x1="388.17" y1="422.96" x2="388.17" y2="427.36" stroke="#f5b81c" stroke-width="0.9"/>
<line x1="392.50" y1="422.96" x2="392.50" y2="427.36" stroke="#f5b81c" stroke-width="0.9"/>
<line x1="396.83" y1="422.96" x2="396.83" y2="427.36" stroke="#f5b81c" stroke-width="0.9"/>
<line x1="401.15" y1="422.96" x2="401.15" y2="427.36" stroke="#f5b81c" stroke-width="0.9"/>
<line x1="405.48" y1="422.96" x2="405.48" y2="427.36" stroke="#f5b81c" stroke-width="0.9"/>
<line x1="409.81" y1="422.96" x2="409.81" y2="427.36" stroke="#f5b81c" stroke-width="0.9"/>
<line x1="414.14" y1="426.86" x2="414.14" y2="431.26" stroke="#f5b81c" stroke-width="0.9"/>
<line x1="418.46" y1="426.86" x2="418.46" y2="431.26" stroke="#f5b81c" stroke-width="0.9"/>
<line x1="422.79" y1="426.86" x2="422.79" y2="431.26" stroke="#f5b81c" stroke-width="0.9"/>
<line x1="427.12" y1="426.86" x2="427.12" y2="431.26" stroke="#f5b81c" stroke-width="0.9"/>
<line x1="431.45" y1="426.86" x2="431.45" y2="431.26" stroke="#f5b81c" stroke-width="0.9"/>
<line x1="435.77" y1="431.23" x2="435.77" y2="435.63" stroke="#f5b81c" stroke-width="0.9"/>
<line x1="440.10" y1="431.23" x2="440.10" y2="435.63" stroke="#f5b81c" stroke-width="0.9"/>
<line x1="444.43" y1="431.23" x2="444.43" y2="435.63" stroke="#f5b81c" stroke-width="0.9"/>
<line x1="448.76" y1="431.23" x2="448.76" y2="435.63" stroke="#f5b81c" stroke-width="0.9"/>
<line x1="453.08" y1="431.23" x2="453.08" y2="435.63" stroke="#f5b81c" stroke-width="0.9"/>
<line x1="457.41" y1="431.23" x2="457.41" y2="435.63" stroke="#f5b81c" stroke-width="0.9"/>
<line x1="461.74" y1="431.23" x2="461.74" y2="435.63" stroke="#f5b81c" stroke-width="0.9"/>
<line x1="466.07" y1="431.23" x2="466.07" y2="435.63" stroke="#f5b81c" stroke-width="0.9"/>
<line x1="470.39" y1="431.23" x2="470.39" y2="435.63" stroke="#f5b81c" stroke-width="0.9"/>
<line x1="474.72" y1="431.23" x2="474.72" y2="435.63" stroke="#f5b81c" stroke-width="0.9"/>
<line x1="479.05" y1="431.23" x2="479.05" y2="435.63" stroke="#f5b81c" stroke-width="0.9"/>
<line x1="483.38" y1="431.23" x2="483.38" y2="435.63" stroke="#f5b81c" stroke-width="0.9"/>
<line x1="487.70" y1="431.23" x2="487.70" y2="435.63" stroke="#f5b81c" stroke-width="0.9"/>
<line x1="492.03" y1="431.23" x2="492.03" y2="435.63" stroke="#f5b81c" stroke-width="0.9"/>
<line x1="496.36" y1="431.23" x2="496.36" y2="435.63" stroke="#f5b81c" stroke-width="0.9"/>
<line x1="500.69" y1="431.23" x2="500.69" y2="435.63" stroke="#f5b81c" stroke-width="0.9"/>
<line x1="505.01" y1="431.23" x2="505.01" y2="435.63" stroke="#f5b81c" stroke-width="0.9"/>
<path d="M342.30,419.70 H347.49 V423.60 H376.92 V425.94 H402.88 V429.06 H421.93 V432.18 H432.31 V437.64 H511.94" fill="none" stroke="#ec8c1e" stroke-width="1.2"/>
<line x1="356.15" y1="421.40" x2="356.15" y2="425.80" stroke="#ec8c1e" stroke-width="0.9"/>
<line x1="376.92" y1="423.74" x2="376.92" y2="428.14" stroke="#ec8c1e" stroke-width="0.9"/>
<line x1="402.88" y1="426.86" x2="402.88" y2="431.26" stroke="#ec8c1e" stroke-width="0.9"/>
<line x1="411.54" y1="426.86" x2="411.54" y2="431.26" stroke="#ec8c1e" stroke-width="0.9"/>
<line x1="439.24" y1="435.44" x2="439.24" y2="439.84" stroke="#ec8c1e" stroke-width="0.9"/>
<line x1="454.81" y1="435.44" x2="454.81" y2="439.84" stroke="#ec8c1e" stroke-width="0.9"/>
<line x1="465.20" y1="435.44" x2="465.20" y2="439.84" stroke="#ec8c1e" stroke-width="0.9"/>
<line x1="473.86" y1="435.44" x2="473.86" y2="439.84" stroke="#ec8c1e" stroke-width="0.9"/>
<line x1="487.70" y1="435.44" x2="487.70" y2="439.84" stroke="#ec8c1e" stroke-width="0.9"/>
<line x1="498.09" y1="435.44" x2="498.09" y2="439.84" stroke="#ec8c1e" stroke-width="0.9"/>
<line x1="505.01" y1="435.44" x2="505.01" y2="439.84" stroke="#ec8c1e" stroke-width="0.9"/>
<path d="M342.30,419.70 H368.26 V420.48 H394.23 V422.04 H408.08 V423.60 H418.46 V425.16 H428.85 V426.72 H435.77 V428.28 H508.48" fill="none" stroke="#2f9e44" stroke-width="1.5"/>
<line x1="347.49" y1="417.50" x2="347.49" y2="421.90" stroke="#2f9e44" stroke-width="0.9"/>
<line x1="350.09" y1="417.50" x2="350.09" y2="421.90" stroke="#2f9e44" stroke-width="0.9"/>
<line x1="352.69" y1="417.50" x2="352.69" y2="421.90" stroke="#2f9e44" stroke-width="0.9"/>
<line x1="355.28" y1="417.50" x2="355.28" y2="421.90" stroke="#2f9e44" stroke-width="0.9"/>
<line x1="357.88" y1="417.50" x2="357.88" y2="421.90" stroke="#2f9e44" stroke-width="0.9"/>
<line x1="360.48" y1="417.50" x2="360.48" y2="421.90" stroke="#2f9e44" stroke-width="0.9"/>
<line x1="363.07" y1="417.50" x2="363.07" y2="421.90" stroke="#2f9e44" stroke-width="0.9"/>
<line x1="365.67" y1="417.50" x2="365.67" y2="421.90" stroke="#2f9e44" stroke-width="0.9"/>
<line x1="368.26" y1="418.28" x2="368.26" y2="422.68" stroke="#2f9e44" stroke-width="0.9"/>
<line x1="370.86" y1="418.28" x2="370.86" y2="422.68" stroke="#2f9e44" stroke-width="0.9"/>
<line x1="373.46" y1="418.28" x2="373.46" y2="422.68" stroke="#2f9e44" stroke-width="0.9"/>
<line x1="376.05" y1="418.28" x2="376.05" y2="422.68" stroke="#2f9e44" stroke-width="0.9"/>
<line x1="378.65" y1="418.28" x2="378.65" y2="422.68" stroke="#2f9e44" stroke-width="0.9"/>
<line x1="381.25" y1="418.28" x2="381.25" y2="422.68" stroke="#2f9e44" stroke-width="0.9"/>
<line x1="383.84" y1="418.28" x2="383.84" y2="422.68" stroke="#2f9e44" stroke-width="0.9"/>
<line x1="386.44" y1="418.28" x2="386.44" y2="422.68" stroke="#2f9e44" stroke-width="0.9"/>
<line x1="389.04" y1="418.28" x2="389.04" y2="422.68" stroke="#2f9e44" stroke-width="0.9"/>
<line x1="391.63" y1="418.28" x2="391.63" y2="422.68" stroke="#2f9e44" stroke-width="0.9"/>
<line x1="394.23" y1="419.84" x2="394.23" y2="424.24" stroke="#2f9e44" stroke-width="0.9"/>
<line x1="396.83" y1="419.84" x2="396.83" y2="424.24" stroke="#2f9e44" stroke-width="0.9"/>
<line x1="399.42" y1="419.84" x2="399.42" y2="424.24" stroke="#2f9e44" stroke-width="0.9"/>
<line x1="402.02" y1="419.84" x2="402.02" y2="424.24" stroke="#2f9e44" stroke-width="0.9"/>
<line x1="404.62" y1="419.84" x2="404.62" y2="424.24" stroke="#2f9e44" stroke-width="0.9"/>
<line x1="407.21" y1="419.84" x2="407.21" y2="424.24" stroke="#2f9e44" stroke-width="0.9"/>
<line x1="409.81" y1="421.40" x2="409.81" y2="425.80" stroke="#2f9e44" stroke-width="0.9"/>
<line x1="412.41" y1="421.40" x2="412.41" y2="425.80" stroke="#2f9e44" stroke-width="0.9"/>
<line x1="415.00" y1="421.40" x2="415.00" y2="425.80" stroke="#2f9e44" stroke-width="0.9"/>
<line x1="417.60" y1="421.40" x2="417.60" y2="425.80" stroke="#2f9e44" stroke-width="0.9"/>
<line x1="420.19" y1="422.96" x2="420.19" y2="427.36" stroke="#2f9e44" stroke-width="0.9"/>
<line x1="422.79" y1="422.96" x2="422.79" y2="427.36" stroke="#2f9e44" stroke-width="0.9"/>
<line x1="425.39" y1="422.96" x2="425.39" y2="427.36" stroke="#2f9e44" stroke-width="0.9"/>
<line x1="427.98" y1="422.96" x2="427.98" y2="427.36" stroke="#2f9e44" stroke-width="0.9"/>
<line x1="430.58" y1="424.52" x2="430.58" y2="428.92" stroke="#2f9e44" stroke-width="0.9"/>
<line x1="433.18" y1="424.52" x2="433.18" y2="428.92" stroke="#2f9e44" stroke-width="0.9"/>
<line x1="435.77" y1="426.08" x2="435.77" y2="430.48" stroke="#2f9e44" stroke-width="0.9"/>
<line x1="438.37" y1="426.08" x2="438.37" y2="430.48" stroke="#2f9e44" stroke-width="0.9"/>
<line x1="440.97" y1="426.08" x2="440.97" y2="430.48" stroke="#2f9e44" stroke-width="0.9"/>
<line x1="443.56" y1="426.08" x2="443.56" y2="430.48" stroke="#2f9e44" stroke-width="0.9"/>
<line x1="446.16" y1="426.08" x2="446.16" y2="430.48" stroke="#2f9e44" stroke-width="0.9"/>
<line x1="448.76" y1="426.08" x2="448.76" y2="430.48" stroke="#2f9e44" stroke-width="0.9"/>
<line x1="451.35" y1="426.08" x2="451.35" y2="430.48" stroke="#2f9e44" stroke-width="0.9"/>
<line x1="453.95" y1="426.08" x2="453.95" y2="430.48" stroke="#2f9e44" stroke-width="0.9"/>
<line x1="456.55" y1="426.08" x2="456.55" y2="430.48" stroke="#2f9e44" stroke-width="0.9"/>
<line x1="459.14" y1="426.08" x2="459.14" y2="430.48" stroke="#2f9e44" stroke-width="0.9"/>
<line x1="461.74" y1="426.08" x2="461.74" y2="430.48" stroke="#2f9e44" stroke-width="0.9"/>
<line x1="464.34" y1="426.08" x2="464.34" y2="430.48" stroke="#2f9e44" stroke-width="0.9"/>
<line x1="466.93" y1="426.08" x2="466.93" y2="430.48" stroke="#2f9e44" stroke-width="0.9"/>
<line x1="469.53" y1="426.08" x2="469.53" y2="430.48" stroke="#2f9e44" stroke-width="0.9"/>
<line x1="472.12" y1="426.08" x2="472.12" y2="430.48" stroke="#2f9e44" stroke-width="0.9"/>
<line x1="474.72" y1="426.08" x2="474.72" y2="430.48" stroke="#2f9e44" stroke-width="0.9"/>
<line x1="477.32" y1="426.08" x2="477.32" y2="430.48" stroke="#2f9e44" stroke-width="0.9"/>
<line x1="479.91" y1="426.08" x2="479.91" y2="430.48" stroke="#2f9e44" stroke-width="0.9"/>
<line x1="482.51" y1="426.08" x2="482.51" y2="430.48" stroke="#2f9e44" stroke-width="0.9"/>
<line x1="485.11" y1="426.08" x2="485.11" y2="430.48" stroke="#2f9e44" stroke-width="0.9"/>
<line x1="487.70" y1="426.08" x2="487.70" y2="430.48" stroke="#2f9e44" stroke-width="0.9"/>
<line x1="490.30" y1="426.08" x2="490.30" y2="430.48" stroke="#2f9e44" stroke-width="0.9"/>
<line x1="492.90" y1="426.08" x2="492.90" y2="430.48" stroke="#2f9e44" stroke-width="0.9"/>
<line x1="495.49" y1="426.08" x2="495.49" y2="430.48" stroke="#2f9e44" stroke-width="0.9"/>
<line x1="498.09" y1="426.08" x2="498.09" y2="430.48" stroke="#2f9e44" stroke-width="0.9"/>
<line x1="500.69" y1="426.08" x2="500.69" y2="430.48" stroke="#2f9e44" stroke-width="0.9"/>
<line x1="503.28" y1="426.08" x2="503.28" y2="430.48" stroke="#2f9e44" stroke-width="0.9"/>
<line x1="505.88" y1="426.08" x2="505.88" y2="430.48" stroke="#2f9e44" stroke-width="0.9"/>
<path d="M342.30,419.70 H346.11 V431.71 H411.02 V460.57 H431.97 V517.98 H459.49 V575.70 H459.49" fill="none" stroke="#c4163c" stroke-width="1.4"/>
<line x1="358.23" y1="429.51" x2="358.23" y2="433.91" stroke="#c4163c" stroke-width="0.9"/>
<line x1="381.77" y1="429.51" x2="381.77" y2="433.91" stroke="#c4163c" stroke-width="0.9"/>
<line x1="393.02" y1="429.51" x2="393.02" y2="433.91" stroke="#c4163c" stroke-width="0.9"/>
<line x1="405.65" y1="429.51" x2="405.65" y2="433.91" stroke="#c4163c" stroke-width="0.9"/>
<line x1="429.72" y1="458.37" x2="429.72" y2="462.77" stroke="#c4163c" stroke-width="0.9"/>
<text x="476.80" y="422.20" font-size="8.5" text-anchor="start" fill="#333" font-weight="normal" stroke="#333" stroke-width="0.1" >7/227</text>
<text x="455.20" y="438.10" font-size="8.5" text-anchor="start" fill="#333" font-weight="normal" stroke="#333" stroke-width="0.1" >7/101</text>
<text x="476.80" y="449.60" font-size="8.5" text-anchor="start" fill="#333" font-weight="normal" stroke="#333" stroke-width="0.1" >3/36</text>
<text x="464.00" y="547.60" font-size="8.5" text-anchor="start" fill="#333" font-weight="normal" stroke="#333" stroke-width="0.1" >4/13</text>
<text x="466" y="576.5" font-size="8.5" fill="#333"><tspan font-style="italic">P</tspan> = .0010</text>
<rect x="0" y="0" width="520" height="1.2" fill="#3a3a3a"/><rect x="0" y="0" width="1.2" height="619" fill="#3a3a3a"/><rect x="518.8" y="0" width="1.2" height="619" fill="#3a3a3a"/><rect x="0" y="617.8" width="520" height="1.2" fill="#3a3a3a"/>
</svg>
</body></html>
